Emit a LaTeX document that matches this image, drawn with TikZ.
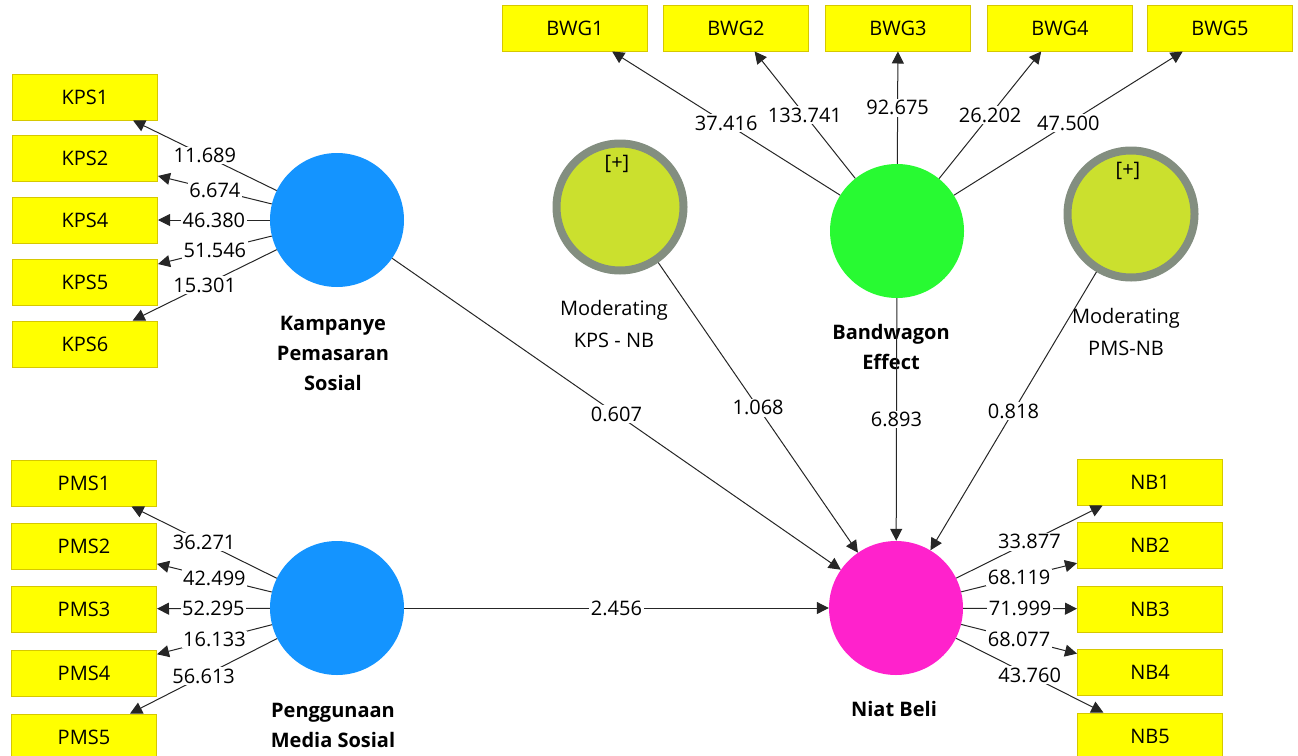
\documentclass[tikz,border=0pt]{standalone}
\usepackage{fontspec}
\setmainfont{Open Sans}
\usepackage{xcolor}
\usepackage{tikz}
\usetikzlibrary{arrows.meta, positioning}

\definecolor{indyellow}{RGB}{255,255,0}
\definecolor{indborder}{RGB}{214,200,0}
\definecolor{lvblue}{RGB}{20,148,255}
\definecolor{lvgreen}{RGB}{40,250,50}
\definecolor{lvpink}{RGB}{255,34,204}
\definecolor{modfill}{RGB}{203,224,46}
\definecolor{modring}{RGB}{131,142,128}

\tikzset{
  ind/.style={draw=indborder, fill=indyellow, line width=1pt, minimum width=145pt,
    minimum height=46pt, inner sep=0pt, font=\fontsize{20}{24}\selectfont},
  lv/.style={circle, minimum size=134pt, inner sep=0pt},
  modlv/.style={circle, draw=modring, line width=8pt, fill=modfill, minimum size=127pt, inner sep=0pt},
  lvname/.style={align=center, font=\bfseries\fontsize{20}{30}\selectfont},
  modname/.style={align=center, font=\fontsize{20}{32}\selectfont},
  weight/.style={fill=white, inner sep=1.5pt, font=\fontsize{20}{24}\selectfont},
  arr/.style={draw=black!85, line width=1pt, -{Triangle[length=12pt,width=12pt]}}
}

\begin{document}
\begin{tikzpicture}[x=1pt, y=-1pt]
    \useasboundingbox (0,0) rectangle (1298,755);
    \clip (0,0) rectangle (1298,755);

    % Latent variables
    \node[lv, fill=lvblue] (kps) at (337,220) {};
    \node[lv, fill=lvblue] (pms) at (337,608) {};
    \node[lv, fill=lvpink] (nb) at (896,608) {};
    \node[lv, fill=lvgreen] (bw) at (897,231) {};
    \node[modlv] (modkps) at (620,207) {};
    \node[modlv] (modpms) at (1131,214) {};
    \node[font=\fontsize{20}{22}\selectfont] (plus1) at (617,164) {[+]};
    \node[font=\fontsize{20}{22}\selectfont] (plus2) at (1128,171) {[+]};

    \node[lvname] (kpsname) at (333,353) {Kampanye\\Pemasaran\\Sosial};
    \node[lvname] (pmsname) at (333,725) {Penggunaan\\Media Sosial};
    \node[lvname] (nbname) at (894,709) {Niat Beli};
    \node[lvname] (bwname) at (891,347) {Bandwagon\\Effect};
    \node[modname] (modkpsname) at (614,324) {Moderating\\KPS - NB};
    \node[modname] (modpmsname) at (1126,332) {Moderating\\PMS-NB};

    % Indicators
    \foreach \i/\y in {1/97,2/158,4/220,5/282,6/344}
      \node[ind] (kps\i) at (85,\y) {KPS\i};
    \foreach \i/\y in {1/483,2/546,3/609,4/673,5/737}
      \node[ind] (pms\i) at (84,\y) {PMS\i};
    \foreach \i/\y in {1/482,2/545,3/609,4/672,5/736}
      \node[ind] (nb\i) at (1150,\y) {NB\i};
    \foreach \i/\x in {1/575,2/736,3/898,4/1060,5/1220}
      \node[ind] (bwg\i) at (\x,28) {BWG\i};

    % Outer loadings
    \draw[arr] (kps) -- node[weight] {11.689} (kps1);
    \draw[arr] (kps) -- node[weight] {6.674} (kps2);
    \draw[arr] (kps) -- node[weight] {46.380} (kps4);
    \draw[arr] (kps) -- node[weight] {51.546} (kps5);
    \draw[arr] (kps) -- node[weight] {15.301} (kps6);

    \draw[arr] (pms) -- node[weight] {36.271} (pms1);
    \draw[arr] (pms) -- node[weight] {42.499} (pms2);
    \draw[arr] (pms) -- node[weight] {52.295} (pms3);
    \draw[arr] (pms) -- node[weight] {16.133} (pms4);
    \draw[arr] (pms) -- node[weight] {56.613} (pms5);

    \draw[arr] (nb) -- node[weight] {33.877} (nb1);
    \draw[arr] (nb) -- node[weight] {68.119} (nb2);
    \draw[arr] (nb) -- node[weight] {71.999} (nb3);
    \draw[arr] (nb) -- node[weight] {68.077} (nb4);
    \draw[arr] (nb) -- node[weight] {43.760} (nb5);

    \draw[arr] (bw) -- node[weight] {37.416} (bwg1);
    \draw[arr] (bw) -- node[weight] {133.741} (bwg2);
    \draw[arr] (bw) -- node[weight] {92.675} (bwg3);
    \draw[arr] (bw) -- node[weight] {26.202} (bwg4);
    \draw[arr] (bw) -- node[weight] {47.500} (bwg5);

    % Inner paths
    \draw[arr] (kps) -- node[weight] {0.607} (nb);
    \draw[arr] (modkps) -- node[weight] {1.068} (nb);
    \draw[arr] (bw) -- node[weight] {6.893} (nb);
    \draw[arr] (modpms) -- node[weight] {0.818} (nb);
    \draw[arr] (pms) -- node[weight] {2.456} (nb);
\end{tikzpicture}
\end{document}
